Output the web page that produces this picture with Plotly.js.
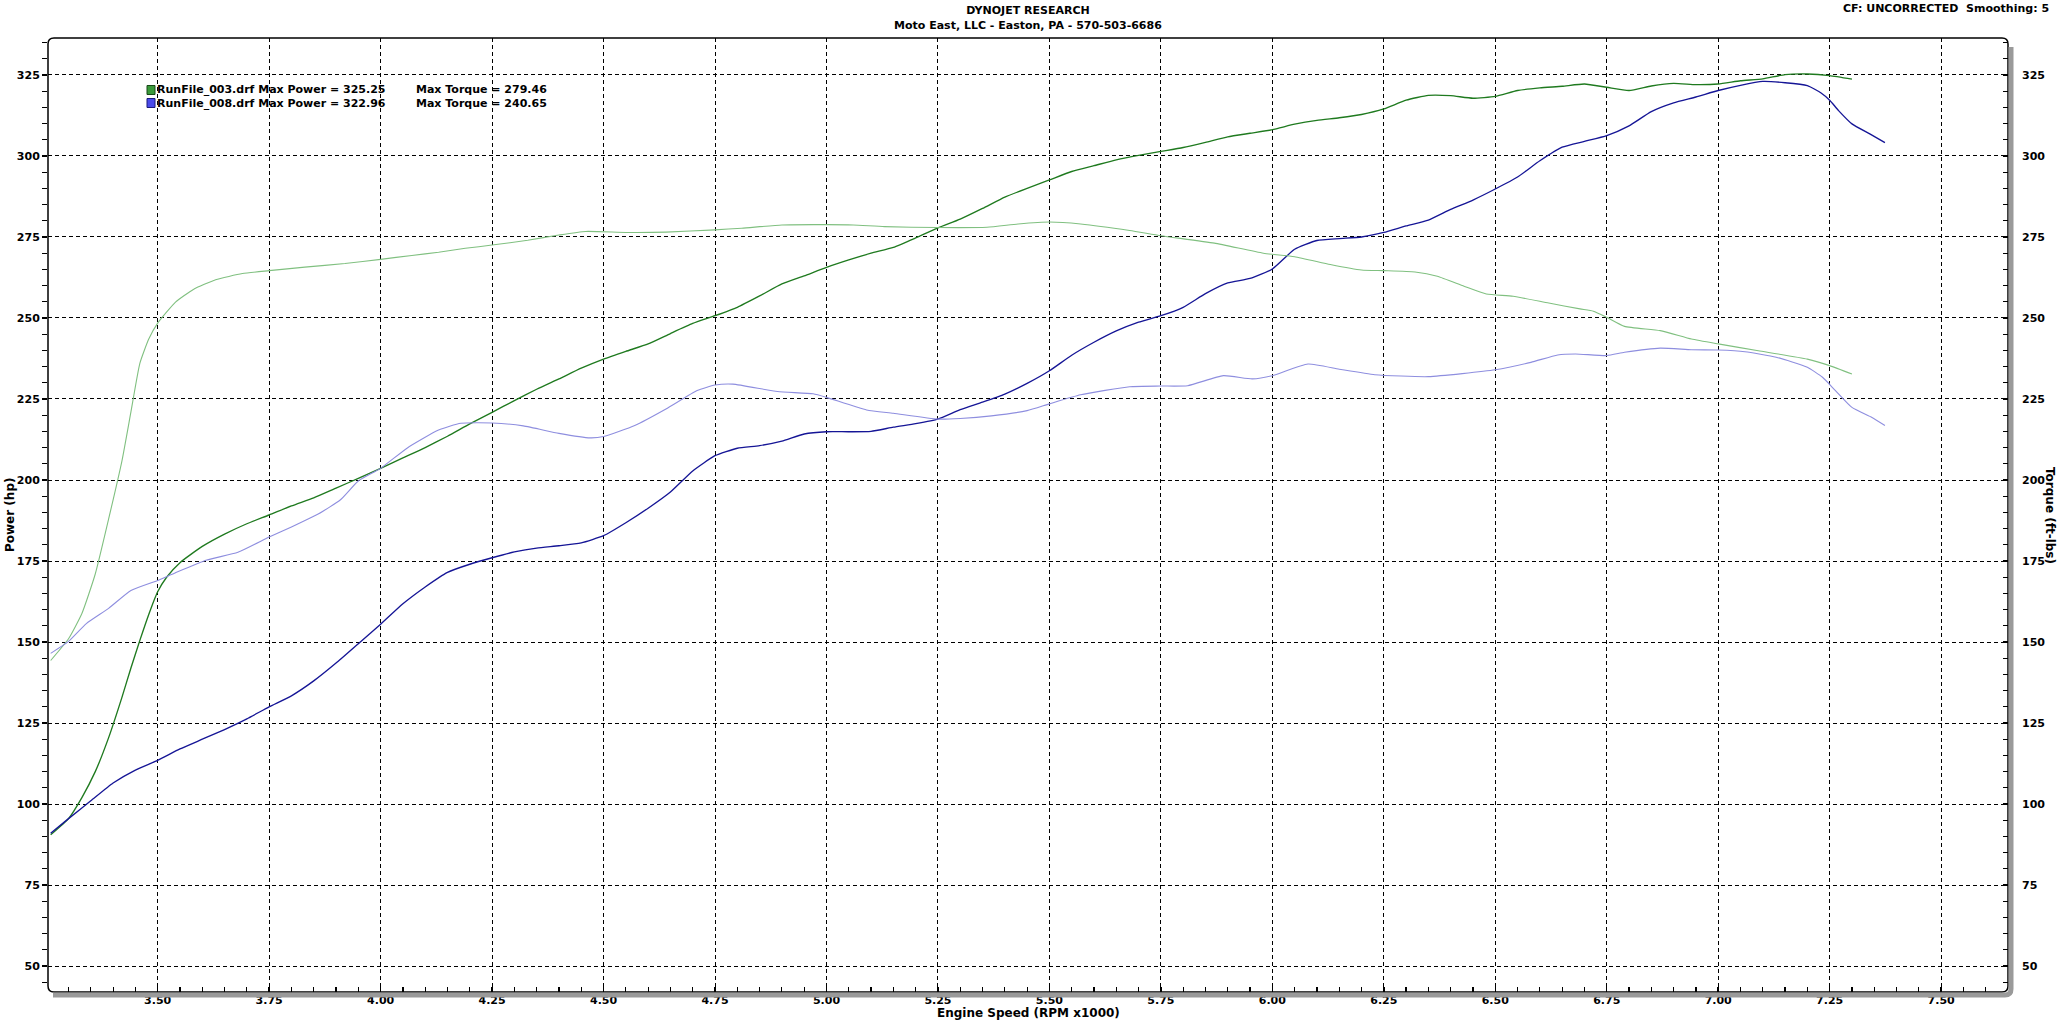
<!DOCTYPE html>
<html>
<head>
<meta charset="utf-8">
<script src="https://cdn.plot.ly/plotly-3.0.1.min.js"></script>
<style>
  html, body { margin: 0; padding: 0; background: #ffffff; }
  #chart { width: 2058px; height: 1025px; }
</style>
</head>
<body>
<div id="chart"></div>
<script>
// ---------------- DATA ----------------
// RunFile_003 power (hp) vs engine speed (RPM x1000)
const rpmPower003 = [3.26,3.30,3.33,3.36,3.39,3.42,3.44,3.46,3.48,3.50,3.52,3.55,3.60,3.65,3.70,3.75,3.80,3.85,3.90,3.95,4.00,4.05,4.10,4.15,4.20,4.25,4.30,4.35,4.40,4.45,4.50,4.55,4.60,4.65,4.70,4.75,4.80,4.85,4.90,4.95,5.00,5.05,5.10,5.15,5.20,5.25,5.30,5.35,5.40,5.45,5.50,5.55,5.60,5.65,5.70,5.75,5.80,5.85,5.90,5.95,6.00,6.05,6.10,6.15,6.20,6.25,6.30,6.35,6.40,6.45,6.50,6.55,6.60,6.65,6.70,6.75,6.80,6.85,6.90,6.95,7.00,7.05,7.10,7.15,7.20,7.25,7.30];
const power003 = [90.5,95.5,102,110,120.5,133,142,150.5,158.5,165.5,170,174.5,179.5,183.3,186.5,189.2,192,194.5,197.5,200.5,203.6,206.8,210,213.5,217.3,220.9,224.5,228,231.2,234.5,237.3,239.7,242,245.2,248.3,250.7,253.3,256.8,260.5,263,265.6,267.9,270,271.8,274.7,277.8,280.5,283.8,287.3,290,292.6,295.2,297,298.8,300.2,301.4,302.6,304.2,305.9,307,308.1,309.8,311,311.8,312.8,314.5,317.2,318.7,318.6,317.8,318.4,320.2,321,321.5,322.2,321.2,320.2,321.6,322.4,322,322.2,323.2,323.8,325.1,325.3,324.8,323.7];

// RunFile_003 torque (ft-lbs)
const rpmTorque003 = [3.26,3.30,3.33,3.36,3.39,3.42,3.44,3.46,3.48,3.50,3.54,3.58,3.63,3.69,3.75,3.83,3.92,4.00,4.07,4.13,4.19,4.25,4.33,4.40,4.46,4.55,4.64,4.75,4.81,4.90,5.00,5.06,5.13,5.25,5.36,5.43,5.50,5.57,5.68,5.75,5.87,5.98,6.05,6.13,6.20,6.25,6.32,6.37,6.43,6.48,6.54,6.62,6.69,6.72,6.75,6.79,6.87,6.94,7.00,7.09,7.20,7.25,7.30];
const torque003 = [144.3,151,158.8,171,188,206,221,236,243.5,248.4,254.9,258.8,261.8,263.7,264.6,265.7,266.8,268.1,269.3,270.3,271.5,272.5,274,275.6,276.7,276.4,276.5,277.2,277.7,278.7,278.8,278.7,278.2,277.9,278.0,279.0,279.6,279.0,277.0,275.4,273.1,270.0,268.9,266.5,264.8,264.6,264.2,262.9,259.8,257.4,256.7,254.6,252.8,252.1,250.2,247.4,246.1,243.5,242.0,239.9,237.3,235.3,232.7];

// RunFile_008 power (hp)
const rpmPower008 = [3.26,3.30,3.35,3.40,3.45,3.50,3.55,3.60,3.65,3.70,3.75,3.80,3.85,3.90,3.95,4.00,4.05,4.10,4.15,4.20,4.25,4.30,4.35,4.40,4.45,4.50,4.55,4.60,4.65,4.70,4.75,4.80,4.85,4.90,4.95,5.00,5.05,5.10,5.15,5.20,5.25,5.30,5.35,5.40,5.45,5.50,5.55,5.60,5.65,5.70,5.75,5.80,5.85,5.90,5.95,6.00,6.05,6.10,6.15,6.20,6.25,6.30,6.35,6.40,6.45,6.50,6.55,6.60,6.65,6.70,6.75,6.80,6.85,6.90,6.95,7.00,7.05,7.10,7.15,7.20,7.23,7.25,7.27,7.30,7.34,7.374];
const power008 = [91,95.5,101,106.5,110.5,113.5,117,120,123,126.3,130,133.4,138,143.5,149.5,155.5,161.8,167,171.5,174,176,177.8,179,179.7,180.6,182.8,186.8,191.3,196.3,202.8,207.5,209.8,210.6,212,214.2,214.9,214.9,215,216.3,217.4,218.8,221.7,224,226.5,229.8,233.7,238.5,242.5,246,248.7,250.7,253.3,257.5,260.8,262.2,265.1,271.2,273.9,274.5,275,276.4,278.4,280.2,283.5,286.4,289.8,293.5,298.5,302.7,304.5,306.3,309.3,313.7,316.4,318.2,320.2,321.8,323,322.6,321.7,319.5,317.2,314,309.9,306.8,304.1];

// RunFile_008 torque (ft-lbs)
const rpmTorque008 = [3.26,3.30,3.34,3.39,3.44,3.50,3.54,3.61,3.68,3.75,3.80,3.86,3.91,3.95,4.00,4.06,4.13,4.18,4.25,4.32,4.40,4.47,4.50,4.57,4.64,4.71,4.75,4.79,4.89,4.97,5.00,5.09,5.15,5.25,5.30,5.37,5.45,5.50,5.57,5.68,5.75,5.81,5.89,5.955,6.00,6.08,6.15,6.23,6.35,6.50,6.58,6.64,6.68,6.75,6.79,6.87,6.94,7.00,7.06,7.13,7.20,7.234,7.263,7.30,7.345,7.374];
const torque008 = [146.5,150.2,155.7,160.4,165.9,169,171.4,175.3,177.7,182.4,185.5,189.5,193.9,199.7,203.6,209.9,215.4,217.5,217.6,216.7,214.4,213.0,213.4,216.8,221.9,227.6,229.3,229.6,227.3,226.6,225.5,221.6,220.6,218.8,219.0,219.8,221.4,223.5,226.3,228.8,229.0,229.1,232.2,231.2,232.2,235.8,234.2,232.5,231.9,234.0,236.3,238.6,238.9,238.4,239.4,240.7,240.2,240.1,239.6,237.9,234.8,231.7,227.6,222.4,219.3,216.8];

// Legend / header texts
const runNames = ['RunFile_003.drf', 'RunFile_008.drf'];
const maxPower = [325.25, 322.96];
const maxTorque = [279.46, 240.65];
const headerTitle = 'DYNOJET RESEARCH';
const headerSub = 'Moto East, LLC - Easton, PA - 570-503-6686';
const headerRight = 'CF: UNCORRECTED\u00a0\u00a0Smoothing: 5';
const xTitle = 'Engine Speed (RPM x1000)';
const yTitle = 'Power (hp)';
const y2Title = 'Torque (ft-lbs)';

// ---------------- STYLE ----------------
const FONT = 'DejaVu Sans, Verdana, sans-serif';
const powerColors = ['#1f7a1f', '#151596'];
const torqueColors = ['#80c080', '#8e8edf'];
const boxFill = ['#3a9a3a', '#4a4aea'];
const boxLine = ['#184818', '#1a1a7a'];

// plot box in pixels
const L = 48, R = 2008, T = 38, B = 992;
const W = R - L, H = B - T;
const px = p => (p - L) / W;
const py = p => (B - p) / H;

const traces = [
  {x: rpmPower003, y: power003, yaxis: 'y', line: {color: powerColors[0], width: 1.35}},
  {x: rpmTorque003, y: torque003, yaxis: 'y2', line: {color: torqueColors[0], width: 1.1}},
  {x: rpmPower008, y: power008, yaxis: 'y', line: {color: powerColors[1], width: 1.35}},
  {x: rpmTorque008, y: torque008, yaxis: 'y2', line: {color: torqueColors[1], width: 1.1}}
].map(t => {
  t.line.shape = 'spline';
  t.line.smoothing = 0.5;
  return Object.assign({type: 'scatter', mode: 'lines', showlegend: false, hoverinfo: 'skip'}, t);
});

const tickFont = {family: FONT, size: 11, color: '#000', weight: 'bold'};
const yRange = [42, 336.4];

const annotations = [];
function addText(text, xp, yp, opts) {
  annotations.push(Object.assign({
    text: text, xref: 'paper', yref: 'paper', x: px(xp), y: py(yp),
    showarrow: false, xanchor: 'center', yanchor: 'middle', borderpad: 0,
    font: {family: FONT, size: 11, color: '#000', weight: 'bold'}
  }, opts || {}));
}
addText(headerSub, 1028, 25);
addText(headerRight, 2050, 8, {xanchor: 'right'});
addText(xTitle, 1028, 1013, {font: {family: FONT, size: 12, color: '#000', weight: 'bold'}});
addText(yTitle, 10, 515, {textangle: -90, font: {family: FONT, size: 12, color: '#000', weight: 'bold'}});
addText(y2Title, 2050, 515, {textangle: 90, font: {family: FONT, size: 12, color: '#000', weight: 'bold'}});

const shapes = [];
runNames.forEach((name, i) => {
  const cy = 90 + i * 13;
  addText(name + ' Max Power = ' + maxPower[i].toFixed(2), 156, cy, {xanchor: 'left'});
  addText('Max Torque = ' + maxTorque[i].toFixed(2), 415, cy, {xanchor: 'left'});
  shapes.push({type: 'rect', xref: 'paper', yref: 'paper',
    x0: px(147), x1: px(155), y0: py(cy + 4.5), y1: py(cy - 4.5),
    fillcolor: boxFill[i], line: {color: boxLine[i], width: 1}, layer: 'above'});
});

// rounded plot border
const rx = 6 / W, ry = 6 / H;
shapes.push({type: 'path', xref: 'paper', yref: 'paper', layer: 'above',
  path: `M ${rx},1 L ${1-rx},1 Q 1,1 1,${1-ry} L 1,${ry} Q 1,0 ${1-rx},0 L ${rx},0 Q 0,0 0,${ry} L 0,${1-ry} Q 0,1 ${rx},1 Z`,
  line: {color: '#000', width: 1.5}, fillcolor: 'rgba(0,0,0,0)'});
// gray drop shadow (bottom and right)
const sx = 3 / W, sy = 3 / H;
shapes.push({type: 'path', xref: 'paper', yref: 'paper', layer: 'above',
  path: `M ${px(L + 5)},${-sy} L ${1 + sx - rx},${-sy} Q ${1 + sx},${-sy} ${1 + sx},${-sy + ry} L ${1 + sx},${py(T + 9)}`,
  line: {color: '#9a9a9a', width: 5}});

const layout = {
  width: 2058, height: 1025,
  margin: {l: L, r: 2058 - R, t: T, b: 1025 - B, pad: 0},
  paper_bgcolor: '#ffffff', plot_bgcolor: '#ffffff',
  showlegend: false,
  title: {text: headerTitle, x: 0.5, xref: 'paper', xanchor: 'center',
    y: 1 - 10 / 1025, yref: 'container', yanchor: 'middle',
    font: {family: FONT, size: 11, color: '#000', weight: 'bold'}},
  xaxis: {
    range: [3.254, 7.65], tick0: 3.5, dtick: 0.25, tickformat: '.2f',
    showgrid: true, gridcolor: '#000', gridwidth: 1, griddash: '4px,3px',
    zeroline: false, showline: false,
    ticks: 'inside', ticklen: 5, tickwidth: 1.5, tickcolor: '#000',
    minor: {dtick: 0.05, ticks: 'inside', ticklen: 5, tickwidth: 1.2, tickcolor: '#000', showgrid: false},
    tickfont: tickFont, fixedrange: true
  },
  yaxis: {
    range: yRange, tick0: 0, dtick: 25,
    showgrid: true, gridcolor: '#000', gridwidth: 1, griddash: '4px,3px',
    zeroline: false, showline: false,
    ticks: 'outside', ticklen: 5, tickwidth: 1.5, tickcolor: '#000',
    minor: {dtick: 5, ticks: 'outside', ticklen: 5, tickwidth: 1.2, tickcolor: '#000', showgrid: false},
    tickfont: tickFont, fixedrange: true
  },
  yaxis2: {
    overlaying: 'y', side: 'right', range: yRange, tick0: 0, dtick: 25,
    showgrid: false, zeroline: false, showline: false,
    ticks: 'inside', ticklen: 5, tickwidth: 1.5, tickcolor: '#000',
    minor: {dtick: 5, ticks: 'inside', ticklen: 5, tickwidth: 1.2, tickcolor: '#000', showgrid: false},
    ticklabelstandoff: 13,
    tickfont: tickFont, fixedrange: true
  },
  annotations: annotations,
  shapes: shapes
};

Plotly.newPlot('chart', traces, layout, {displayModeBar: false, staticPlot: true});
</script>
</body>
</html>
